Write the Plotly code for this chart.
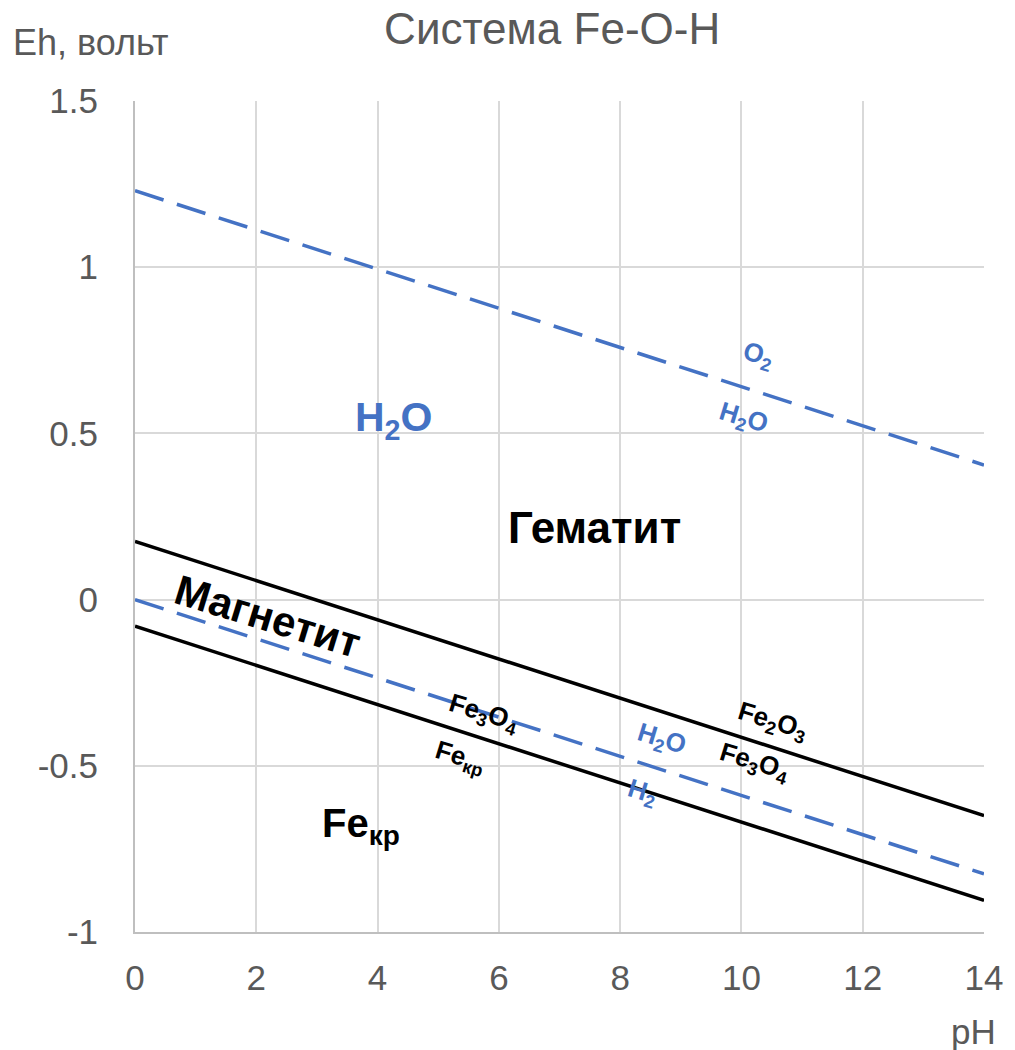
import plotly.graph_objects as go

# pH range of the boundary lines
ph = [0, 14]

# Eh (V) of each boundary at pH 0 and pH 14
o2_h2o = [1.23, 0.405]      # O2 / H2O
h2o_h2 = [0.0, -0.825]      # H2O / H2
hem_mag = [0.175, -0.65]    # Fe2O3 / Fe3O4
mag_fe = [-0.08, -0.905]    # Fe3O4 / Fe

x_ticks = [0, 2, 4, 6, 8, 10, 12, 14]
y_ticks = [-1, -0.5, 0, 0.5, 1, 1.5]
y_labels = ["-1", "-0.5", "0", "0.5", "1", "1.5"]

BLUE = "#4472C4"
GREY = "#595959"
FONT = "Liberation Sans, Arial, sans-serif"

fig = go.Figure()

for vals in (o2_h2o, h2o_h2):
    fig.add_trace(go.Scatter(x=ph, y=vals, mode="lines",
                             line=dict(color=BLUE, width=3.5, dash="30px,14px"),
                             hoverinfo="skip", showlegend=False))
for vals in (hem_mag, mag_fe):
    fig.add_trace(go.Scatter(x=ph, y=vals, mode="lines",
                             line=dict(color="black", width=3.5),
                             hoverinfo="skip", showlegend=False))

# region and boundary labels: (text, pH, Eh, colour, size, angle)
labels = [
    ("<b>H<sub>2</sub>O</b>", 4.26, 0.54, BLUE, 41, 0),
    ("<b>Гематит</b>", 7.57, 0.218, "black", 44, 0),
    ("<b>Fe<sub>кр</sub></b>", 3.72, -0.68, "black", 40, 0),
    ("<b>Магнетит</b>", 2.19, -0.052, "black", 42, 17),
    ("<b>O<sub>2</sub></b>", 10.28, 0.733, BLUE, 26, 17),
    ("<b>H<sub>2</sub>O</b>", 10.04, 0.546, BLUE, 26, 17),
    ("<b>Fe<sub>3</sub>O<sub>4</sub></b>", 5.75, -0.344, "black", 26, 17),
    ("<b>Fe<sub>кр</sub></b>", 5.36, -0.474, "black", 26, 17),
    ("<b>Fe<sub>2</sub>O<sub>3</sub></b>", 10.51, -0.368, "black", 26, 17),
    ("<b>Fe<sub>3</sub>O<sub>4</sub></b>", 10.22, -0.489, "black", 26, 17),
    ("<b>H<sub>2</sub>O</b>", 8.68, -0.422, BLUE, 26, 17),
    ("<b>H<sub>2</sub></b>", 8.37, -0.579, BLUE, 26, 17),
]
for text, x, y, col, size, ang in labels:
    fig.add_annotation(x=x, y=y, text=text, showarrow=False, textangle=ang,
                       font=dict(family=FONT, size=size, color=col),
                       xanchor="center", yanchor="middle")

# axis titles
fig.add_annotation(xref="paper", yref="paper", x=-0.0526, y=1.07,
                   text="Eh, вольт", showarrow=False,
                   font=dict(family=FONT, size=36, color=GREY),
                   xanchor="center", yanchor="middle")
fig.add_annotation(xref="paper", yref="paper", x=0.988, y=-0.12,
                   text="pH", showarrow=False,
                   font=dict(family=FONT, size=35, color=GREY),
                   xanchor="center", yanchor="middle")

fig.update_layout(
    width=1015, height=1050,
    margin=dict(l=135, r=25, t=101, b=118),
    paper_bgcolor="white", plot_bgcolor="white",
    font=dict(family=FONT, color=GREY),
    title=dict(text="Система Fe-O-H", x=0.544, xanchor="center",
               y=0.973, yanchor="middle",
               font=dict(family=FONT, size=44, color=GREY)),
    xaxis=dict(range=[0, 14], tickvals=x_ticks, showgrid=True,
               gridcolor="#d9d9d9", gridwidth=1.5, zeroline=False,
               showline=True, linecolor="#bfbfbf", linewidth=2,
               tickfont=dict(family=FONT, size=35, color=GREY),
               ticks="", ticklabelstandoff=14),
    yaxis=dict(range=[-1, 1.5], tickvals=y_ticks, ticktext=y_labels,
               showgrid=True, gridcolor="#d9d9d9", gridwidth=1.5,
               zeroline=False, showline=True, linecolor="#bfbfbf",
               linewidth=2, tickfont=dict(family=FONT, size=35, color=GREY),
               ticks="", ticklabelstandoff=28),
)

fig.write_html("out.html")
